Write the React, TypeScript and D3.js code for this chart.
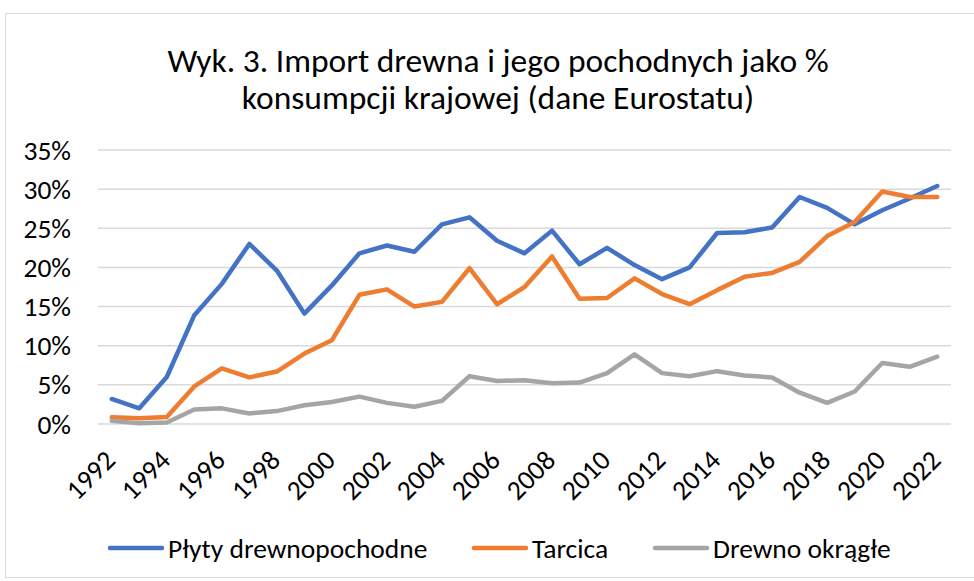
import React from "react";
import * as d3 from "d3";

const years = d3.range(1992, 2023).map(String);
const plyty = [3.2, 2.0, 6.0, 13.9, 17.9, 23.0, 19.6, 14.1, 17.7, 21.8, 22.8, 22.0, 25.5, 26.4, 23.4, 21.8, 24.7, 20.4, 22.5, 20.3, 18.5, 20.0, 24.4, 24.5, 25.1, 29.0, 27.6, 25.5, 27.3, 28.8, 30.4];
const tarcica = [0.85, 0.75, 0.9, 4.8, 7.1, 5.95, 6.7, 9.0, 10.7, 16.5, 17.2, 15.0, 15.6, 19.9, 15.3, 17.5, 21.4, 16.0, 16.1, 18.6, 16.6, 15.3, 17.1, 18.8, 19.3, 20.7, 24.0, 25.8, 29.7, 29.0, 29.0];
const okragle = [0.4, 0.1, 0.2, 1.85, 2.0, 1.35, 1.65, 2.4, 2.8, 3.5, 2.7, 2.2, 2.95, 6.1, 5.5, 5.6, 5.2, 5.3, 6.5, 8.9, 6.5, 6.1, 6.75, 6.2, 5.95, 4.0, 2.7, 4.15, 7.8, 7.3, 8.6];
const yTicks = [0, 5, 10, 15, 20, 25, 30, 35];
const seriesNames = ["Płyty drewnopochodne", "Tarcica", "Drewno okrągłe"];
const colors = ["#4472C4", "#ED7D31", "#A5A5A5"];
const titleLines = ["Wyk. 3. Import drewna i jego pochodnych jako %", "konsumpcji krajowej (dane Eurostatu)"];

const FONT = "Carlito, 'Liberation Sans Narrow', 'Arial Narrow', 'Open Sans', sans-serif";

export default function App() {
  const W = 974, H = 581;
  const x = d3.scaleBand().domain(years).range([98, 951]);
  const y = d3.scaleLinear().domain([0, 35]).range([424, 150]);
  const line = d3.line<number>()
    .x((_, i) => (x(years[i]) as number) + x.bandwidth() / 2)
    .y((d) => y(d));
  const data = [plyty, tarcica, okragle];
  const legendX = [110, 474, 655];
  return (
    <svg width={W} height={H} style={{ position: "absolute", left: 0, top: 0, background: "#fff" }} fontFamily={FONT}>
      <rect x={5.5} y={13.5} width={975} height={564} fill="#fff" stroke="#D9D9D9" strokeWidth={1} />
      {titleLines.map((t, i) => (
        <text key={i} x={498} y={72 + i * 37} textAnchor="middle" fontSize={33.5} fill="#000">{t}</text>
      ))}
      {yTicks.map((t) => (
        <g key={t}>
          <line x1={98} x2={951} y1={y(t)} y2={y(t)} stroke="#D9D9D9" strokeWidth={1.5} />
          <text x={71} y={y(t)} dy="0.35em" textAnchor="end" fontSize={27.5} fill="#000">{t + "%"}</text>
        </g>
      ))}
      {years.map((yr, i) => i % 2 === 0 ? (
        <text key={yr} transform={`translate(${(x(yr) as number) + x.bandwidth() / 2 + 5},${462}) rotate(-45)`} textAnchor="end" fontSize={27.5} fill="#000">{yr}</text>
      ) : null)}
      {data.map((d, i) => (
        <path key={i} d={line(d) as string} fill="none" stroke={colors[i]} strokeWidth={4.5} strokeLinejoin="round" strokeLinecap="round" />
      ))}
      {seriesNames.map((n, i) => (
        <g key={n}>
          <line x1={legendX[i]} x2={legendX[i] + 52} y1={548} y2={548} stroke={colors[i]} strokeWidth={4.5} strokeLinecap="round" />
          <text x={legendX[i] + 58} y={548} dy="0.35em" fontSize={27.5} fill="#000">{n}</text>
        </g>
      ))}
    </svg>
  );
}
